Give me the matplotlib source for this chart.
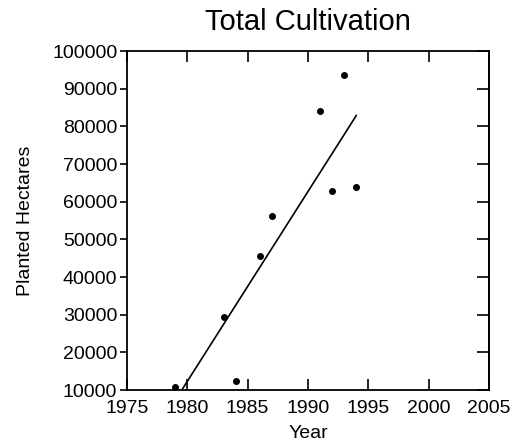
import matplotlib.pyplot as plt
import numpy as np

# ============================================================
# DATA
# ============================================================

years = [1979, 1983, 1984, 1986, 1987, 1991, 1992, 1993, 1994]

hectares = [10700, 29300, 12300, 45500, 56300, 84100, 62800, 93600, 63900]

x_ticks = [1975, 1980, 1985, 1990, 1995, 2000, 2005]

y_ticks = [10000, 20000, 30000, 40000, 50000,
           60000, 70000, 80000, 90000, 100000]

# ============================================================
# FIT
# ============================================================

slope, intercept = np.polyfit(years, hectares, 1)
fit_x = np.array([min(years), max(years)])
fit_y = slope * fit_x + intercept

# ============================================================
# PLOT
# ============================================================

plt.rcParams["font.family"] = ["Liberation Sans", "DejaVu Sans"]

fig = plt.figure(figsize=(5.15, 4.47), dpi=100)
ax = fig.add_axes([0.2466, 0.1275, 0.7029, 0.7584])

ax.plot(years, hectares, "o", color="black", markersize=4)
ax.plot(fit_x, fit_y, color="black", linewidth=1.2)

ax.set_xlim(1975, 2005)
ax.set_ylim(10000, 100000)
ax.set_xticks(x_ticks)
ax.set_yticks(y_ticks)

for spine in ax.spines.values():
    spine.set_linewidth(1.3)

ax.tick_params(axis="x", direction="in", top=True, bottom=True,
               length=8, width=1.2, labelsize=14, pad=7)
ax.tick_params(axis="y", direction="out", left=True, right=False,
               length=5, width=1.2, labelsize=14, pad=2)

right = ax.secondary_yaxis("right")
right.set_yticks(y_ticks)
right.tick_params(direction="in", length=8.5, width=1.2, labelright=False)
right.spines["right"].set_linewidth(1.3)

ax.set_title("Total Cultivation", fontsize=21, pad=15)
ax.set_xlabel("Year", fontsize=14, labelpad=6)
ax.set_ylabel("Planted Hectares", fontsize=14, labelpad=13)

fig.savefig("out.png", dpi=100)
